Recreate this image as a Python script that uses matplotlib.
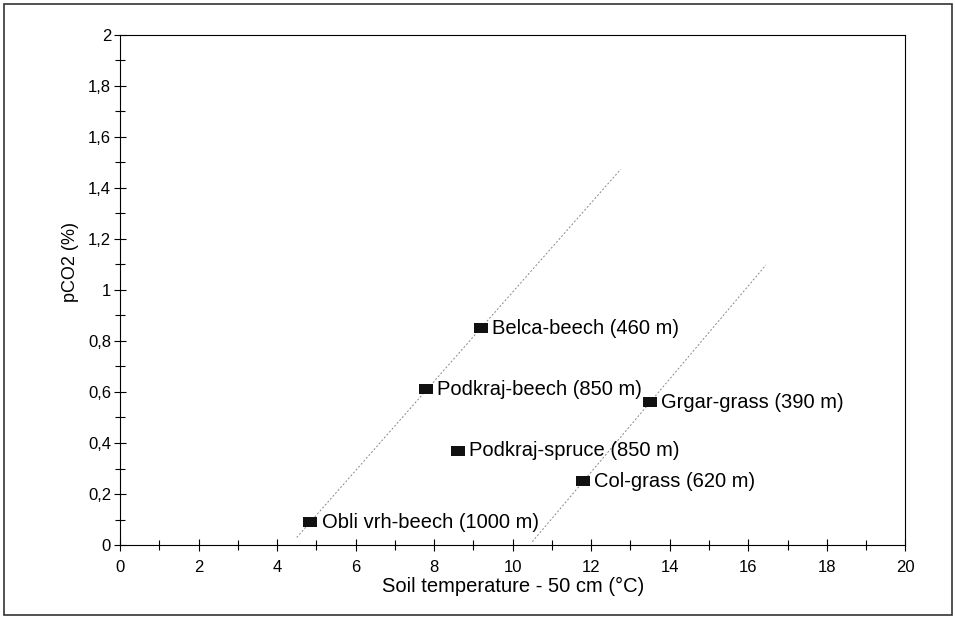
import numpy as np
import matplotlib.pyplot as plt
from matplotlib.ticker import MultipleLocator, FuncFormatter
from matplotlib.patches import Rectangle
from matplotlib.path import Path

plt.rcParams['font.family'] = ['Liberation Sans', 'DejaVu Sans']

# sites: soil temperature at 50 cm (°C) and pCO2 (%)
sites = ["Belca-beech (460 m)", "Podkraj-beech (850 m)", "Grgar-grass (390 m)",
         "Podkraj-spruce (850 m)", "Col-grass (620 m)", "Obli vrh-beech (1000 m)"]
temp = [9.2, 7.8, 13.5, 8.6, 11.8, 4.85]
pco2 = [0.85, 0.61, 0.56, 0.37, 0.25, 0.09]

# trend lines: which sites are used, and the x range they span
beech_idx = [0, 1, 5]
grass_idx = [2, 4]
beech_range = [4.5, 12.75]
grass_range = [10.5, 16.45]

# flat rectangle marker like the original
box = Path([(-1, -0.7), (1, -0.7), (1, 0.7), (-1, 0.7), (-1, -0.7)],
           [Path.MOVETO, Path.LINETO, Path.LINETO, Path.LINETO, Path.CLOSEPOLY])

fig = plt.figure(figsize=(9.55, 6.29), dpi=100)
ax = fig.add_axes([0.1257, 0.1335, 0.8223, 0.811])

for idx, xr in [(beech_idx, beech_range), (grass_idx, grass_range)]:
    k, b = np.polyfit([temp[i] for i in idx], [pco2[i] for i in idx], 1)
    xs = np.array(xr)
    ax.plot(xs, k * xs + b, color="#888888", lw=0.7, ls=(0, (2, 2)))

ax.scatter(temp, pco2, marker=box, s=100, color="#111111", lw=0, zorder=3)
for name, x, y in zip(sites, temp, pco2):
    ax.annotate(name, (x, y), xytext=(8, 0), textcoords="offset points",
                va="center", ha="left", fontsize=14.5)

ax.set_xlim(0, 20)
ax.set_ylim(0, 2)
ax.xaxis.set_major_locator(MultipleLocator(2))
ax.xaxis.set_minor_locator(MultipleLocator(1))
ax.yaxis.set_major_locator(MultipleLocator(0.2))
ax.yaxis.set_minor_locator(MultipleLocator(0.1))
ax.yaxis.set_major_formatter(FuncFormatter(lambda v, p: f"{v:g}".replace(".", ",")))
ax.tick_params(which="both", direction="inout", top=False, right=False,
               labelsize=12, width=0.8)
ax.tick_params(which="major", length=9)
ax.tick_params(which="minor", length=7)
ax.tick_params(axis="x", which="major", pad=6)
ax.tick_params(axis="y", which="major", pad=2)
for s in ax.spines.values():
    s.set_linewidth(0.8)
ax.set_xlabel("Soil temperature - 50 cm (°C)", fontsize=14.5, labelpad=2)
ax.set_ylabel("pCO2 (%)", fontsize=13)
ax.yaxis.set_label_coords(-0.052, 0.555)

fig.patches.append(Rectangle((0.004, 0.022), 0.993, 0.972, transform=fig.transFigure,
                             fill=False, lw=1.2, color="#333333"))

plt.savefig("out.png", dpi=100)
plt.close()
